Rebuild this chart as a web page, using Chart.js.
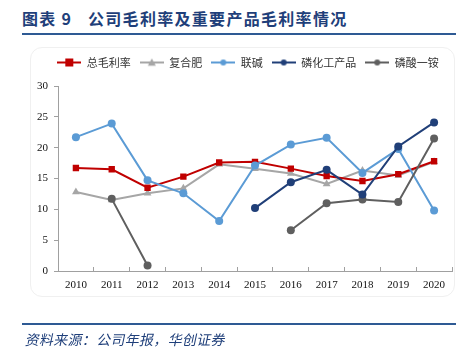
<!DOCTYPE html>
<html>
<head>
<meta charset="utf-8">
<script src="https://cdn.jsdelivr.net/npm/chart.js@4/dist/chart.umd.min.js"></script>
<style>
  html, body { margin: 0; padding: 0; background: #fff; }
  #wrap { position: relative; width: 467px; height: 347px; overflow: hidden; }
  .title { position: absolute; top: 6px; font-family: "Noto Sans CJK SC", sans-serif; font-weight: bold; font-size: 16px; color: #1F3F7A; white-space: pre; line-height: 24px; letter-spacing: 1.3px; }
  #rule1 { position: absolute; left: 22px; top: 33px; width: 434px; height: 2px; background: #2E5A94; }
  #box { position: absolute; left: 30px; top: 47px; width: 425px; height: 250px; border: 1px solid #F0F0F0; border-radius: 12px; box-sizing: border-box; }
  #rule2 { position: absolute; left: 22px; top: 323px; width: 434px; height: 2px; background: #2E5A94; }
  #source { position: absolute; left: 24px; top: 330px; font-family: "Noto Sans CJK SC", sans-serif; font-size: 14px; color: #1F3F7A; line-height: 18px; transform: skewX(-12deg); transform-origin: left bottom; letter-spacing: 0.3px; }
  #cv { position: absolute; left: 0; top: 0; }
</style>
</head>
<body>
<div id="wrap">
  <div class="title" style="left:22px">图表 9</div>
  <div class="title" style="left:88px">公司毛利率及重要产品毛利率情况</div>
  <div id="rule1"></div>
  <div id="box"></div>
  <canvas id="cv" width="467" height="347"></canvas>
  <div id="rule2"></div>
  <div id="source">资料来源：公司年报，华创证券</div>
</div>
<script>
// 数据
const years = ["2010","2011","2012","2013","2014","2015","2016","2017","2018","2019","2020"];
const seriesNames = ["总毛利率","复合肥","联碱","磷化工产品","磷酸一铵"];
const totalMargin = [16.7, 16.5, 13.5, 15.3, 17.6, 17.7, 16.6, 15.4, 14.6, 15.7, 17.8];
const compoundFert = [12.8, 11.5, 12.6, 13.4, 17.3, 16.6, 15.8, 14.1, 16.3, 15.5, 17.7];
const sodaAsh = [21.7, 23.9, 14.7, 12.6, 8.1, 17.1, 20.5, 21.6, 15.9, 19.8, 9.8];
const phosChem = [null, null, null, null, null, 10.2, 14.4, 16.4, 12.4, 20.2, 24.1];
const map = [null, 11.7, 0.9, null, null, null, 6.6, 11.0, 11.6, 11.2, 21.5];
const yTicks = [0, 5, 10, 15, 20, 25, 30];

const colors = ["#C00000", "#A6A6A6", "#5B9BD5", "#203F78", "#5F5F5F"];
const markers = ["rect", "triangle", "circle", "circle", "circle"];
const markerR = [4.5, 4.5, 4, 4, 4];
const drawOrder = [5, 6, 4, 2, 3]; // 小的画在上面

// 图例小图标：线 + 标记
function legendIcon(color, style, r) {
  const c = document.createElement("canvas");
  c.width = 24; c.height = 10;
  const g = c.getContext("2d");
  g.strokeStyle = color; g.lineWidth = 2;
  g.beginPath(); g.moveTo(0, 5); g.lineTo(24, 5); g.stroke();
  g.fillStyle = color;
  if (style === "rect") g.fillRect(12 - r, 5 - r, 2 * r, 2 * r);
  else if (style === "triangle") { g.beginPath(); g.moveTo(12, 5 - r); g.lineTo(12 + r, 5 + r * 0.8); g.lineTo(12 - r, 5 + r * 0.8); g.closePath(); g.fill(); }
  else { g.beginPath(); g.arc(12, 5, r - 0.5, 0, Math.PI * 2); g.fill(); }
  return c;
}
const icons = colors.map((c, i) => legendIcon(c, markers[i], markerR[i] - 0.5));

const allData = [totalMargin, compoundFert, sodaAsh, phosChem, map];
const datasets = allData.map((d, i) => ({
  label: seriesNames[i],
  data: d,
  borderColor: colors[i],
  backgroundColor: colors[i],
  borderWidth: 2,
  pointStyle: markers[i],
  pointRadius: markerR[i],
  pointHoverRadius: markerR[i],
  pointBorderWidth: 0,
  spanGaps: false,
  tension: 0,
  order: drawOrder[i]
}));

// 图例与绘图区之间留出空隙，并稍微右移
const legendGap = {
  id: "legendGap",
  beforeLayout(chart) {
    const lg = chart.legend;
    if (lg && !lg._gapPatched) {
      const fit = lg.fit;
      lg.fit = function () { fit.call(this); this.height += 8; };
      lg._gapPatched = true;
    }
  },
  afterLayout(chart) {
    const lg = chart.legend;
    if (lg) { lg.left += 12; lg.right += 12; }
  }
};

const serif = "'Liberation Serif', 'Times New Roman', serif";

new Chart(document.getElementById("cv"), {
  type: "line",
  data: { labels: years, datasets },
  plugins: [legendGap],
  options: {
    responsive: false,
    animation: false,
    layout: { padding: { left: 20, right: 15, top: 48, bottom: 51 } },
    plugins: {
      tooltip: { enabled: false },
      legend: {
        position: "top",
        labels: {
          usePointStyle: true,
          pointStyleWidth: 24,
          padding: 9,
          color: "#333",
          font: { family: "'Noto Sans CJK SC', sans-serif", size: 11 },
          sort: (a, b) => a.datasetIndex - b.datasetIndex,
          generateLabels(chart) {
            return Chart.defaults.plugins.legend.labels.generateLabels(chart).map(it => {
              it.pointStyle = icons[it.datasetIndex];
              return it;
            });
          }
        }
      }
    },
    scales: {
      x: {
        offset: true,
        grid: { display: true, drawOnChartArea: false, offset: true, tickLength: -4, color: "#A0A0A0", tickColor: "#A0A0A0" },
        border: { display: true, color: "#A0A0A0", width: 1 },
        ticks: { color: "#111", padding: 12, font: { family: serif, size: 11 } },
        afterFit(s) { s.height = 25; }
      },
      y: {
        min: 0, max: 30,
        afterBuildTicks(s) { s.ticks = yTicks.map(v => ({ value: v })); },
        grid: { display: true, drawOnChartArea: false, tickLength: 4, color: "#A0A0A0", tickColor: "#A0A0A0" },
        border: { display: true, color: "#A0A0A0", width: 1 },
        ticks: { color: "#111", padding: 6, font: { family: serif, size: 11 } },
        afterFit(s) { s.width = 38; }
      }
    }
  }
});
</script>
</body>
</html>
